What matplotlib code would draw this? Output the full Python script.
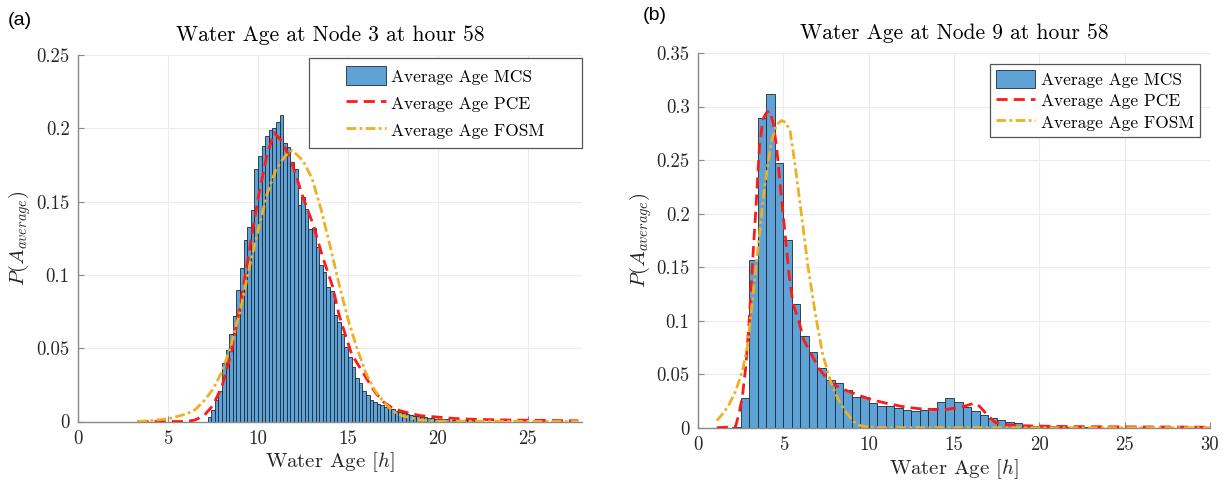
import numpy as np
import matplotlib
matplotlib.use("Agg")
import matplotlib.pyplot as plt
from matplotlib.patches import Rectangle

# =============================
# DATA
# =============================
# panel (a): node 3, MCS histogram, bins of 0.2 h starting at 7.2 h
A_BIN_START = 7.2
A_BIN_WIDTH = 0.2
a_mcs = [0.003, 0.008, 0.015, 0.021, 0.040, 0.049, 0.060, 0.072, 0.090, 0.105,
         0.124, 0.133, 0.144, 0.172, 0.181, 0.188, 0.195, 0.199, 0.200, 0.204,
         0.209, 0.190, 0.187, 0.177, 0.172, 0.148, 0.153, 0.145, 0.131, 0.132,
         0.119, 0.107, 0.102, 0.092, 0.089, 0.073, 0.068, 0.060, 0.051, 0.044,
         0.037, 0.030, 0.026, 0.021, 0.018, 0.015, 0.013, 0.012, 0.011, 0.010,
         0.0095, 0.0085, 0.0075, 0.0065, 0.0055, 0.005, 0.0045, 0.004, 0.0035, 0.003,
         0.003, 0.0025, 0.0022, 0.002, 0.0018, 0.0016, 0.0015, 0.0013, 0.0012, 0.0011,
         0.001, 0.001, 0.0009, 0.0008]

a_pce_x = [3.3, 6.0, 6.5, 7.0, 7.5, 8.0, 8.5, 9.0, 9.5, 10.0, 10.5, 10.9, 11.35,
           11.9, 12.5, 13.05, 13.6, 14.15, 14.5, 15.2, 16.0, 16.5, 17.0, 17.5,
           18.0, 19.0, 20.0, 21.0, 22.0, 24.0, 27.8]
a_pce_y = [0.0, 0.0, 0.001, 0.004, 0.011, 0.024, 0.046, 0.078, 0.115, 0.152, 0.182,
           0.197, 0.191, 0.176, 0.153, 0.135, 0.112, 0.092, 0.073, 0.046, 0.030,
           0.020, 0.013, 0.009, 0.007, 0.004, 0.003, 0.002, 0.0015, 0.001, 0.0005]

a_fosm_x = [3.3, 4.0, 5.0, 6.0, 6.5, 7.0, 7.5, 8.0, 8.5, 9.0, 9.5, 10.0, 10.5, 11.0,
            11.5, 11.9, 12.5, 13.0, 13.5, 14.0, 14.5, 15.0, 15.5, 16.0, 16.5, 17.0,
            17.5, 18.0, 19.0, 20.0, 27.8]
a_fosm_y = [0.0, 0.0005, 0.0018, 0.005, 0.008, 0.014, 0.022, 0.034, 0.052, 0.075,
            0.104, 0.130, 0.155, 0.172, 0.181, 0.185, 0.178, 0.166, 0.145, 0.120,
            0.094, 0.070, 0.050, 0.033, 0.021, 0.013, 0.007, 0.004, 0.001, 0.0003, 0.0]

# panel (b): node 9, MCS histogram, bins of 0.5 h starting at 2.0 h
B_BIN_START = 2.0
B_BIN_WIDTH = 0.5
b_mcs = [0.001, 0.028, 0.157, 0.289, 0.312, 0.247, 0.175, 0.116, 0.086, 0.071,
         0.056, 0.045, 0.042, 0.035, 0.029, 0.029, 0.023, 0.020, 0.020, 0.018,
         0.017, 0.016, 0.017, 0.018, 0.024, 0.028, 0.024, 0.019, 0.016, 0.012,
         0.009, 0.0075, 0.005, 0.004, 0.0025, 0.002, 0.0015, 0.0012, 0.001, 0.0008,
         0.0007, 0.0005]

b_pce_x = [1.1, 2.2, 2.4, 2.6, 2.8, 3.0, 3.2, 3.4, 3.6, 3.8, 4.0, 4.2, 4.4, 4.6,
           4.9, 5.1, 5.35, 5.57, 5.9, 6.2, 6.7, 7.1, 7.5, 8.0, 8.5, 9.3, 10.2, 11.0,
           11.9, 12.8, 13.7, 14.5, 15.4, 15.8, 16.2, 16.5, 16.95, 17.4, 17.9, 18.7,
           20.0, 22.0, 26.0, 30.0]
b_pce_y = [0.0, 0.001, 0.013, 0.029, 0.057, 0.100, 0.155, 0.207, 0.262, 0.288,
           0.294, 0.296, 0.285, 0.263, 0.213, 0.182, 0.141, 0.116, 0.100, 0.082,
           0.067, 0.055, 0.047, 0.040, 0.036, 0.031, 0.026, 0.023, 0.020, 0.018,
           0.017, 0.017, 0.019, 0.021, 0.023, 0.020, 0.012, 0.005, 0.003, 0.002,
           0.0015, 0.001, 0.0007, 0.0005]

b_fosm_x = [1.1, 1.45, 1.8, 2.2, 2.6, 2.9, 3.1, 3.5, 3.9, 4.3, 4.6, 4.9, 5.15, 5.4,
            5.7, 6.0, 6.45, 6.9, 7.3, 7.75, 8.2, 8.6, 9.1, 9.5, 10.0, 11.0, 30.0]
b_fosm_y = [0.0066, 0.013, 0.021, 0.034, 0.053, 0.076, 0.105, 0.165, 0.225, 0.268,
            0.283, 0.287, 0.285, 0.277, 0.244, 0.207, 0.150, 0.104, 0.069, 0.044,
            0.027, 0.016, 0.006, 0.002, 0.0005, 0.0, 0.0]

# ticks / labels
a_xticks = [0, 5, 10, 15, 20, 25]
a_yticks = [0, 0.05, 0.1, 0.15, 0.2, 0.25]
a_yticklabels = ["0", "0.05", "0.1", "0.15", "0.2", "0.25"]
b_xticks = [0, 5, 10, 15, 20, 25, 30]
b_yticks = [0, 0.05, 0.1, 0.15, 0.2, 0.25, 0.3, 0.35]
b_yticklabels = ["0", "0.05", "0.1", "0.15", "0.2", "0.25", "0.3", "0.35"]
LABELS = ["Average Age MCS", "Average Age PCE", "Average Age FOSM"]

# =============================
# STYLE
# =============================
plt.rcParams['font.family'] = 'serif'
plt.rcParams['font.serif'] = ['cmr10']
plt.rcParams['mathtext.fontset'] = 'cm'
plt.rcParams['axes.unicode_minus'] = False
plt.rcParams['axes.formatter.use_mathtext'] = True

BAR_COLOR = '#5fa2d5'
BAR_EDGE = '#1c2a38'
PCE_COLOR = '#ff1a1a'
FOSM_COLOR = '#edb120'
SPINE_COLOR = '#8a8a8a'
TEXT_COLOR = '#262626'


def style_axes(ax, xlim, ylim, xticks, yticks, yticklabels, title):
    ax.set_xlim(xlim)
    ax.set_ylim(ylim)
    ax.set_xticks(xticks)
    ax.set_xticklabels([str(t) for t in xticks])
    ax.set_yticks(yticks)
    ax.set_yticklabels(yticklabels)
    ax.grid(True, color='#ececec', lw=0.8)
    ax.set_axisbelow(True)
    for s in ['top', 'right']:
        ax.spines[s].set_visible(False)
    for s in ['left', 'bottom']:
        ax.spines[s].set_color(SPINE_COLOR)
        ax.spines[s].set_linewidth(1.0)
    ax.tick_params(direction='in', length=4, color=SPINE_COLOR,
                   labelcolor=TEXT_COLOR, labelsize=13.5, pad=6)
    ax.set_title(title, fontsize=15.5, color='black', pad=10)
    ax.set_xlabel(r'Water Age $[h]$', fontsize=15, color=TEXT_COLOR, labelpad=2)
    ax.set_ylabel(r'$P(A_{average})$', fontsize=15, color=TEXT_COLOR, labelpad=2)


def draw_panel(ax, start, width, mcs, pce_x, pce_y, fosm_x, fosm_y):
    lefts = [start + i * width for i in range(len(mcs))]
    bars = ax.bar(lefts, mcs, width=width, align='edge', color=BAR_COLOR,
                  edgecolor=BAR_EDGE, linewidth=0.6, zorder=2)
    pce, = ax.plot(pce_x, pce_y, color=PCE_COLOR, lw=2.0, ls=(0, (4, 2.2)), zorder=3)
    fosm, = ax.plot(fosm_x, fosm_y, color=FOSM_COLOR, lw=2.0,
                    ls=(0, (3.5, 1.2, 1.0, 1.2)), zorder=3)
    return [bars, pce, fosm]


def boxed_legend(ax, handles, x0, y0, w, h, spacing, hh):
    ax.add_patch(Rectangle((x0, y0), w, h, transform=ax.transAxes,
                           facecolor='white', edgecolor='#555555', lw=0.9,
                           zorder=6, clip_on=False))
    leg = ax.legend(handles, LABELS, loc='center',
                    bbox_to_anchor=(x0 + w / 2, y0 + h / 2),
                    frameon=False, fontsize=12.5, handlelength=2.3,
                    handleheight=hh, handletextpad=0.3,
                    labelspacing=spacing, borderpad=0.0)
    leg.set_zorder(7)
    return leg


fig = plt.figure(figsize=(12.28, 4.84), dpi=100)
ax1 = fig.add_axes([0.0635, 0.1291, 0.4104, 0.7572])
ax2 = fig.add_axes([0.5684, 0.1163, 0.4169, 0.7742])

h1 = draw_panel(ax1, A_BIN_START, A_BIN_WIDTH, a_mcs, a_pce_x, a_pce_y, a_fosm_x, a_fosm_y)
style_axes(ax1, (0, 28), (0, 0.25), a_xticks, a_yticks, a_yticklabels,
           'Water Age at Node 3 at hour 58')
boxed_legend(ax1, h1, 0.458, 0.746, 0.542, 0.246, 0.45, 1.35)

h2 = draw_panel(ax2, B_BIN_START, B_BIN_WIDTH, b_mcs, b_pce_x, b_pce_y, b_fosm_x, b_fosm_y)
style_axes(ax2, (0, 30), (0, 0.35), b_xticks, b_yticks, b_yticklabels,
           'Water Age at Node 9 at hour 58')
boxed_legend(ax2, h2, 0.570, 0.776, 0.410, 0.195, 0.2, 1.2)

fig.text(0.0065, 0.958, '(a)', family='Liberation Sans', fontsize=14, va='center')
fig.text(0.5235, 0.967, '(b)', family='Liberation Sans', fontsize=14, va='center')

fig.savefig('out.png', dpi=100)
